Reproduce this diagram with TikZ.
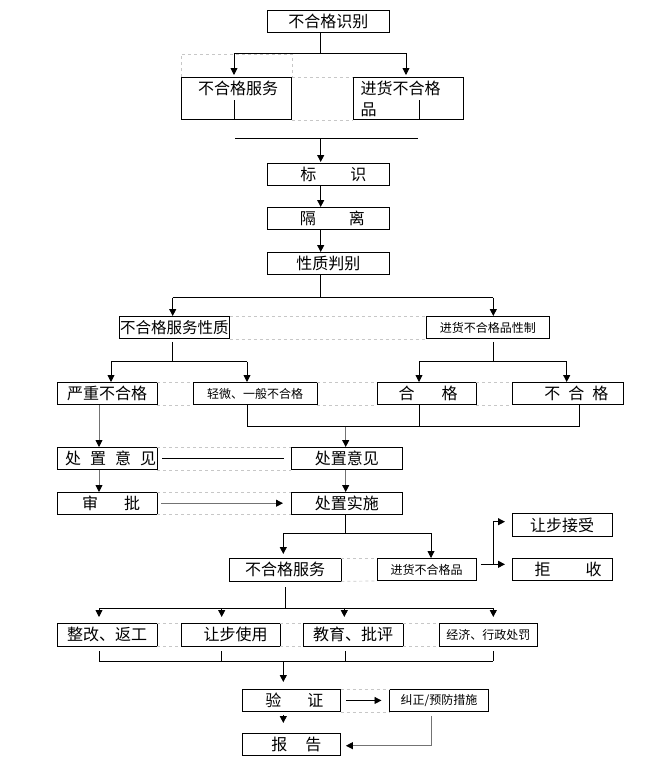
\documentclass[tikz,border=0pt]{standalone}
\usepackage{fontspec}
\setmainfont{Noto Sans CJK SC}
\usetikzlibrary{arrows.meta}
\tikzset{
 box/.style={draw, line width=0.9pt, inner sep=0pt, anchor=north west, font=\fontsize{16}{18}\selectfont},
 sm/.style={font=\fontsize{12}{14}\selectfont},
 ln/.style={line width=0.9pt},
 arr/.style={line width=0.9pt, -{Triangle[length=7pt,width=7pt]}},
 garr/.style={line width=0.9pt, draw=black!55, -{Triangle[length=7pt,width=7pt,color=black]}},
 dsh/.style={draw=black!22, dashed, line width=0.7pt},
 lbl/.style={inner sep=0pt, font=\fontsize{16}{18}\selectfont},
}
\newcommand\bx[7]{\node[box,minimum width=#4pt,minimum height=#5pt,#6] (#1) at (#2,#3) {#7};}
\begin{document}
\begin{tikzpicture}[x=1pt,y=-1pt]
\useasboundingbox (0,0) rectangle (666,774);

% coordinates (junctions)
\coordinate (ja) at (320.7,53);
\coordinate (ja1) at (234,53);
\coordinate (ja2) at (406,53);
\coordinate (jc) at (320.7,138.3);
\coordinate (hl1) at (235,138.3);
\coordinate (hl2) at (418.3,138.3);
\coordinate (je) at (320.7,297.7);
\coordinate (je1) at (172.7,297.7);
\coordinate (je2) at (493.3,297.7);
\coordinate (jf) at (172.7,361.7);
\coordinate (jf1) at (111,361.7);
\coordinate (jf2) at (247,361.7);
\coordinate (jg) at (493.3,361.7);
\coordinate (jg1) at (419,361.7);
\coordinate (jg2) at (566.7,361.7);
\coordinate (cl) at (99,430);
\coordinate (jm) at (345.7,426.7);
\coordinate (jm1) at (247.3,426.7);
\coordinate (jm2) at (419.3,426.7);
\coordinate (jm3) at (579.3,426.7);
\coordinate (jn) at (345.7,533.3);
\coordinate (jn1) at (283.3,533.3);
\coordinate (jn2) at (431,533.3);
\coordinate (jr) at (493.3,564.3);
\coordinate (jq) at (493.3,521.7);
\coordinate (jk) at (285,608.3);
\coordinate (jk1) at (99,608.3);
\coordinate (jk2) at (221.7,608.3);
\coordinate (jk3) at (344.3,608.3);
\coordinate (jk4) at (493.3,608.3);
\coordinate (jl) at (283.3,661);
\coordinate (jl1) at (99,661);
\coordinate (jl2) at (221.7,661);
\coordinate (jl3) at (345,661);
\coordinate (jl4) at (493.3,661);
\coordinate (jz) at (431.7,745.7);
\coordinate (v1a) at (234,100);
\coordinate (v1b) at (234,118.5);
\coordinate (v2a) at (419.3,100);
\coordinate (v2b) at (419.3,118.5);

% invisible placement of boxes first for dashed lines
\bx{a}{267}{10}{122}{22}{}{不合格识别}
\bx{b1}{181}{77}{110}{42}{}{}
\bx{b2}{353}{77}{110}{42}{}{}
\node[lbl] (b1t) at (238,88) {不合格服务};
\node[lbl, anchor=west] (b2t) at (360.5,88) {进货不合格};
\node[lbl, anchor=west] (b2u) at (360.5,110) {品};
\bx{c}{267}{163}{122}{22}{}{\hspace{10pt}标\hspace{34pt}识}
\bx{d}{267}{207}{122}{22}{}{\hspace{8pt}隔\hspace{33pt}离}
\bx{e}{267}{252}{122}{21.5}{}{性质判别}
\bx{f1}{119}{316}{110}{22}{font=\fontsize{15.5}{18}\selectfont}{不合格服务性质}
\bx{f2}{426}{316}{123}{22}{sm}{进货不合格品性制}
\bx{g1}{57}{382}{99.5}{22}{}{严重不合格}
\bx{g2}{193}{382}{123.5}{22}{sm}{轻微、一般不合格}
\bx{g3}{377}{382}{98.5}{22}{}{\hspace{3pt}合\hspace{27pt}格}
\bx{g4}{512}{382}{111}{22}{}{\hspace{17pt}不\hspace{8pt}合\hspace{8pt}格}
\bx{h1}{57}{447}{99.5}{22}{}{\hspace{7pt}处\hspace{9pt}置\hspace{9pt}意\hspace{9pt}见}
\bx{h2}{291}{447}{111}{22}{}{处置意见}
\bx{i1}{57}{492}{99.5}{21.5}{}{\hspace{8pt}审\hspace{26pt}批}
\bx{i2}{291}{492}{111}{21.5}{}{处置实施}
\bx{j0}{512}{513}{99.5}{23}{}{让步接受}
\bx{j1}{229}{558}{111.5}{22.5}{}{不合格服务\hspace{10pt}}
\bx{j2}{377}{558}{98.5}{22}{sm}{进货不合格品\hspace{12pt}}
\bx{j3}{512}{558}{99.5}{22}{}{\hspace{12pt}拒\hspace{35pt}收}
\bx{k1}{57}{623}{99.5}{22.5}{}{整改、返工}
\bx{k2}{181}{623}{98.5}{22.5}{}{\hspace{10pt}让步使用}
\bx{k3}{303}{623}{99.5}{22.5}{}{教育、批评}
\bx{k4}{439}{623}{98}{22.5}{sm}{经济、行政处罚}
\bx{l1}{242}{689}{98}{22}{}{\hspace{6pt}验\hspace{26pt}证}
\bx{l2}{389}{689}{99}{22}{sm}{纠正/预防措施}
\bx{m}{242}{733}{98}{22}{}{\hspace{10pt}报\hspace{18pt}告}

% dashed grid remnants
\draw[dsh] (b1.north west) -- ++(0,-23) -| (b1.north east);
\draw[dsh] (b1.north east) -- (b2.north west);
\draw[dsh] (b1.south east) -- (b2.south west);
\draw[dsh] (f1.north east) -- (f2.north west);
\draw[dsh] (f1.south east) -- (f2.south west);
\draw[dsh] (g1.north east) -- (g2.north west);
\draw[dsh] (g1.south east) -- (g2.south west);
\draw[dsh] (g2.north east) -- (g3.north west);
\draw[dsh] (g2.south east) -- (g3.south west);
\draw[dsh] (g3.north east) -- (g4.north west);
\draw[dsh] (g3.south east) -- (g4.south west);
\draw[dsh] (h1.north east) -- (h2.north west);
\draw[dsh] (h1.south east) -- (h2.south west);
\draw[dsh] (i1.north east) -- (i2.north west);
\draw[dsh] (i1.south east) -- (i2.south west);
\draw[dsh] (j1.north east) -- (j2.north west);
\draw[dsh] (j1.south east) -- (j2.south west);
\draw[dsh] (k1.north east) -- (k2.north west);
\draw[dsh] (k1.south east) -- (k2.south west);
\draw[dsh] (k2.north east) -- (k3.north west);
\draw[dsh] (k2.south east) -- (k3.south west);
\draw[dsh] (k3.north east) -- (k4.north west);
\draw[dsh] (k3.south east) -- (k4.south west);
\draw[dsh] (l1.north east) -- (l2.north west);
\draw[dsh] (l1.south east) -- (l2.south west);

% connectors
\draw[ln] (ja |- a.south) -- (ja);
\draw[ln] (ja1) -- (ja2);
\draw[arr, shorten >=2pt] (ja1) -- (ja1 |- b1.north);
\draw[arr, shorten >=2pt] (ja2) -- (ja2 |- b2.north);
\draw[ln] (v1a) -- (v1b);
\draw[ln] (v2a) -- (v2b);
\draw[ln] (hl1) -- (hl2);
\draw[arr, shorten >=1pt] (jc) -- (jc |- c.north);
\draw[arr] (jc |- c.south) -- (jc |- d.north);
\draw[arr] (jc |- d.south) -- (jc |- e.north);
\draw[ln] (je |- e.south) -- (je);
\draw[ln] (je1) -- (je2);
\draw[arr] (je1) -- (je1 |- f1.north);
\draw[arr] (je2) -- (je2 |- f2.north);
\draw[ln, shorten <=3pt] (jf |- f1.south) -- (jf);
\draw[ln] (jf1) -- (jf2);
\draw[arr] (jf1) -- (jf1 |- g1.north);
\draw[arr] (jf2) -- (jf2 |- g2.north);
\draw[ln, shorten <=3pt] (jg |- f2.south) -- (jg);
\draw[ln] (jg1) -- (jg2);
\draw[arr] (jg1) -- (jg1 |- g3.north);
\draw[arr] (jg2) -- (jg2 |- g4.north);
\draw[garr] (cl |- g1.south) -- (cl |- h1.north);
\draw[ln] (jm1 |- g2.south) -- (jm1) -- (jm3) -- (jm3 |- g4.south);
\draw[ln] (jm2 |- g3.south) -- (jm2);
\draw[garr] (jm) -- (jm |- h2.north);
\draw[ln, shorten <=5pt, shorten >=7pt] (h1.east) -- (h2.west);
\draw[garr] (cl |- h1.south) -- (cl |- i1.north);
\draw[garr] (jm |- h2.south) -- (jm |- i2.north);
\draw[garr, shorten <=4pt, shorten >=8pt] (i1.east) -- (i2.west);
\draw[ln] (jn |- i2.south) -- (jn);
\draw[ln] (jn1) -- (jn2);
\draw[arr, shorten >=4pt] (jn1) -- (jn1 |- j1.north);
\draw[arr] (jn2) -- (jn2 |- j2.north);
\draw[arr, shorten <=4.5pt, shorten >=7pt] (j2.east |- jr) -- (j3.west |- jr);
\draw[arr, shorten >=7pt] (jr) -- (jq) -- (jq -| j0.west);
\draw[ln, shorten <=6pt] (jk |- j1.south) -- (jk);
\draw[ln] (jk1) -- (jk4);
\draw[arr, shorten >=6pt] (jk1) -- (jk1 |- k1.north);
\draw[arr, shorten >=6pt] (jk2) -- (jk2 |- k2.north);
\draw[arr, shorten >=6pt] (jk3) -- (jk3 |- k3.north);
\draw[arr, shorten >=6pt] (jk4) -- (jk4 |- k4.north);
\draw[ln, shorten <=5pt] (jl1 |- k1.south) -- (jl1);
\draw[ln, shorten <=5pt] (jl2 |- k2.south) -- (jl2);
\draw[ln, shorten <=5pt] (jl3 |- k3.south) -- (jl3);
\draw[ln, shorten <=5pt] (jl4 |- k4.south) -- (jl4);
\draw[ln] (jl1) -- (jl4);
\draw[arr, shorten >=7pt] (jl) -- (jl |- l1.north);
\draw[arr, shorten <=5pt, shorten >=7.5pt] (l1.east) -- (l2.west);
\draw[arr, shorten <=3pt, shorten >=10pt] (jl |- l1.south) -- (jl |- m.north);
\draw[garr, shorten <=4pt, shorten >=5pt] (jz |- l2.south) -- (jz) -- (jz -| m.east);
\end{tikzpicture}
\end{document}
